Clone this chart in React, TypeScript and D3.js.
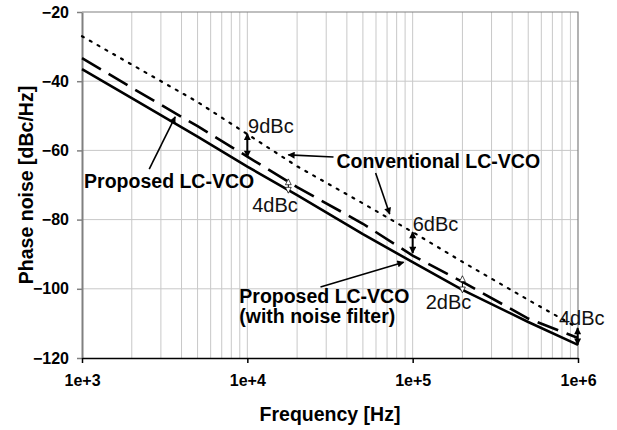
import React, { useEffect, useRef } from "react";
import * as d3 from "d3";

// phase noise vs offset frequency
const FREQUENCIES = [1e3, 2e3, 5e3, 1e4, 2e4, 5e4, 1e5, 2e5, 5e5, 1e6];
const CONVENTIONAL = [-27, -35.2, -46, -55.3, -64.6, -75.3, -83.6, -92.2, -103.2, -111.3];
const PROPOSED = [-33.3, -41.9, -53, -61.8, -70.6, -81.2, -90.4, -98, -108.6, -114.2];
const PROPOSED_FILTER = [-36.5, -44.9, -56, -64.7, -72.9, -84.2, -92.3, -100.3, -109.6, -116.2];

const Y_TICKS = [-20, -40, -60, -80, -100, -120];
const X_TICKS = [1e3, 1e4, 1e5, 1e6];
const X_TICK_LABELS = ["1e+3", "1e+4", "1e+5", "1e+6"];

// dBc difference labels and their arrows (freq, dB)
const DIFF_LABELS = [
  { text: "9dBc", f: 1.01e4, v: -55 },
  { text: "4dBc", f: 1.07e4, v: -77.8 },
  { text: "6dBc", f: 1e5, v: -83.3 },
  { text: "2dBc", f: 1.2e5, v: -105.8 },
  { text: "4dBc", f: 7.67e5, v: -110.5 },
];
const DIFF_ARROWS = [
  { f: 1e4, from: -55.2, to: -61.9, filled: true },
  { f: 1.77e4, from: -68.4, to: -72.2, filled: false },
  { f: 1e5, from: -83.6, to: -89.7, filled: true },
  { f: 2e5, from: -96.4, to: -101, filled: false },
  { f: 0.995e6, from: -111.3, to: -116.2, filled: true },
];

const CALLOUTS = [
  { lines: ["Conventional LC-VCO"], f: 3.46e4, v: -65.1 },
  { lines: ["Proposed LC-VCO"], f: 1.03e3, v: -70.9 },
  { lines: ["Proposed LC-VCO", "(with noise filter)"], f: 8.94e3, v: -104.2 },
];
const POINTERS = [
  { from: [3.32e4, -61.9], to: [1.77e4, -61.3] },
  { from: [5.97e4, -66.5], to: [7.26e4, -78.4] },
  { from: [2.55e3, -65.4], to: [3.66e3, -50.3] },
  { from: [2.77e4, -99.5], to: [8.82e4, -92.3] },
];

const WIDTH = 617;
const HEIGHT = 430;
const MARGIN = { TOP: 12, RIGHT: 39, BOTTOM: 72, LEFT: 82 };
const FONT = "'Liberation Sans', Arial, sans-serif";

const Chart = () => {
  const svgRef = useRef<SVGSVGElement>(null);

  useEffect(() => {
    const svg = d3.select(svgRef.current);
    svg.selectAll("*").remove();

    const x = d3.scaleLog().domain([1e3, 1e6]).range([MARGIN.LEFT, WIDTH - MARGIN.RIGHT]);
    const y = d3.scaleLinear().domain([-120, -20]).range([HEIGHT - MARGIN.BOTTOM, MARGIN.TOP]);
    const [x0, x1] = x.range();
    const [y0, y1] = y.range();

    const defs = svg.append("defs");
    defs
      .append("marker")
      .attr("id", "head")
      .attr("markerUnits", "userSpaceOnUse")
      .attr("viewBox", "0 0 10 10")
      .attr("refX", 9)
      .attr("refY", 5)
      .attr("markerWidth", 9)
      .attr("markerHeight", 7)
      .attr("orient", "auto-start-reverse")
      .append("path")
      .attr("d", "M0,0L10,5L0,10z")
      .attr("fill", "#000");
    defs
      .append("marker")
      .attr("id", "hollow")
      .attr("markerUnits", "userSpaceOnUse")
      .attr("viewBox", "-1 -1 12 12")
      .attr("refX", 9)
      .attr("refY", 5)
      .attr("markerWidth", 8)
      .attr("markerHeight", 7)
      .attr("orient", "auto-start-reverse")
      .append("path")
      .attr("d", "M0,0L10,5L0,10z")
      .attr("fill", "#fff")
      .attr("stroke", "#000")
      .attr("stroke-width", 1.2);

    // grid
    const minor = d3
      .range(3, 6)
      .flatMap((e) => d3.range(1, 10).map((m) => m * 10 ** e))
      .filter((f) => f > 1e3 && f < 1e6);
    svg
      .append("g")
      .selectAll("line")
      .data(minor)
      .join("line")
      .attr("x1", (d) => x(d))
      .attr("x2", (d) => x(d))
      .attr("y1", y1)
      .attr("y2", y0)
      .attr("stroke", "#c8c8c8")
      .attr("stroke-width", 1);
    svg
      .append("g")
      .selectAll("line")
      .data(Y_TICKS.slice(1, -1))
      .join("line")
      .attr("x1", x0)
      .attr("x2", x1)
      .attr("y1", (d) => y(d))
      .attr("y2", (d) => y(d))
      .attr("stroke", "#c8c8c8")
      .attr("stroke-width", 1);

    // frame
    svg
      .append("path")
      .attr("d", `M${x0},${y1}H${x1}V${y0}`)
      .attr("fill", "none")
      .attr("stroke", "#808080")
      .attr("stroke-width", 1.2);

    // axes
    const yAxis = d3.axisLeft(y).tickValues(Y_TICKS).tickSize(5).tickSizeOuter(0).tickPadding(8);
    const gy = svg.append("g").attr("transform", `translate(${x0},0)`).call(yAxis);
    gy.select(".domain").attr("stroke", "#808080").attr("stroke-width", 2);
    gy.selectAll(".tick line").attr("stroke", "#808080").attr("stroke-width", 1.5);

    const xAxis = d3
      .axisBottom(x)
      .tickValues(X_TICKS)
      .tickFormat((d, i) => X_TICK_LABELS[i])
      .tickSize(5)
      .tickSizeOuter(0)
      .tickPadding(12);
    const gx = svg.append("g").attr("transform", `translate(0,${y0})`).call(xAxis);
    gx.select(".domain").attr("stroke", "#000").attr("stroke-width", 1.5);
    gx.selectAll(".tick line").attr("stroke", "#000").attr("stroke-width", 1.5);

    svg
      .selectAll(".tick text")
      .attr("font-family", FONT)
      .attr("font-size", 16)
      .attr("font-weight", "bold")
      .attr("fill", "#000");

    // axis titles
    svg
      .append("text")
      .attr("x", (x0 + x1) / 2)
      .attr("y", 421)
      .attr("text-anchor", "middle")
      .attr("font-family", FONT)
      .attr("font-size", 19.5)
      .attr("font-weight", "bold")
      .text("Frequency [Hz]");
    svg
      .append("text")
      .attr("transform", `translate(33,${(y0 + y1) / 2}) rotate(-90)`)
      .attr("text-anchor", "middle")
      .attr("font-family", FONT)
      .attr("font-size", 19.5)
      .attr("font-weight", "bold")
      .text("Phase noise [dBc/Hz]");

    // curves
    const line = d3
      .line<number>()
      .x((d, i) => x(FREQUENCIES[i]))
      .y((d) => y(d));
    const series = [
      { values: CONVENTIONAL, dash: "2,7", width: 2.2, cap: "round" },
      { values: PROPOSED, dash: "22,9", width: 2.6, cap: "butt" },
      { values: PROPOSED_FILTER, dash: null, width: 2.6, cap: "butt" },
    ];
    svg
      .append("g")
      .selectAll("path")
      .data(series)
      .join("path")
      .attr("d", (d) => line(d.values))
      .attr("fill", "none")
      .attr("stroke", "#000")
      .attr("stroke-width", (d) => d.width)
      .attr("stroke-linecap", (d) => d.cap)
      .attr("stroke-dasharray", (d) => d.dash);

    // difference arrows
    svg
      .append("g")
      .selectAll("line")
      .data(DIFF_ARROWS)
      .join("line")
      .attr("x1", (d) => x(d.f))
      .attr("x2", (d) => x(d.f))
      .attr("y1", (d) => y(d.from))
      .attr("y2", (d) => y(d.to))
      .attr("stroke", "#000")
      .attr("stroke-width", (d) => (d.filled ? 2 : 1))
      .attr("marker-start", (d) => (d.filled ? "url(#head)" : "url(#hollow)"))
      .attr("marker-end", (d) => (d.filled ? "url(#head)" : "url(#hollow)"));

    svg
      .append("g")
      .selectAll("text")
      .data(DIFF_LABELS)
      .join("text")
      .attr("x", (d) => x(d.f))
      .attr("y", (d) => y(d.v))
      .attr("font-family", FONT)
      .attr("font-size", 20)
      .attr("fill", "#111")
      .text((d) => d.text);

    // callouts
    svg
      .append("g")
      .selectAll("line")
      .data(POINTERS)
      .join("line")
      .attr("x1", (d) => x(d.from[0]))
      .attr("y1", (d) => y(d.from[1]))
      .attr("x2", (d) => x(d.to[0]))
      .attr("y2", (d) => y(d.to[1]))
      .attr("stroke", "#000")
      .attr("stroke-width", 1.6)
      .attr("marker-end", "url(#head)");

    const callout = svg
      .append("g")
      .selectAll("text")
      .data(CALLOUTS)
      .join("text")
      .attr("x", (d) => x(d.f))
      .attr("y", (d) => y(d.v))
      .attr("font-family", FONT)
      .attr("font-size", 19.5)
      .attr("font-weight", "bold")
      .attr("fill", "#000");
    callout
      .selectAll("tspan")
      .data((d) => d.lines.map((t) => ({ t, f: d.f })))
      .join("tspan")
      .attr("x", (d) => x(d.f))
      .attr("dy", (d, i) => (i === 0 ? 0 : 19.5))
      .text((d) => d.t);
  }, []);

  return (
    <svg
      ref={svgRef}
      width={WIDTH}
      height={HEIGHT}
      style={{ position: "absolute", left: 0, top: 0, background: "#fff" }}
    />
  );
};

export default function App() {
  return <Chart />;
}
